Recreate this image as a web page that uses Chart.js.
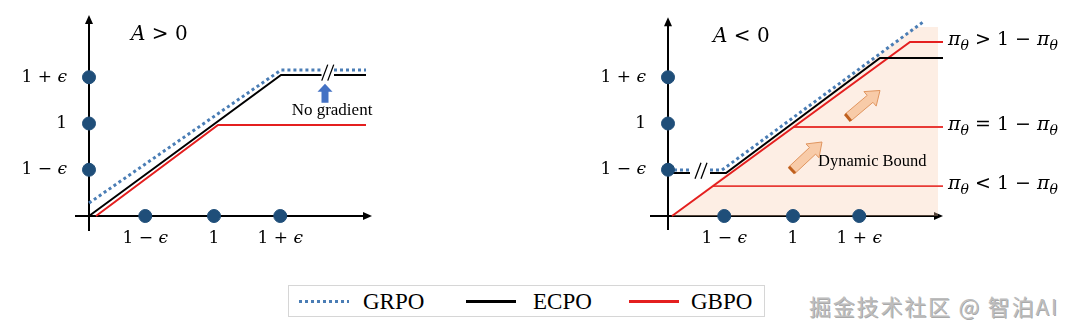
<!DOCTYPE html>
<html>
<head>
<meta charset="utf-8">
<script src="https://cdn.jsdelivr.net/npm/chart.js@4.4.1/dist/chart.umd.min.js"></script>
<style>
  body { margin: 0; width: 1080px; height: 332px; background: #fff; position: relative; overflow: hidden; }
  canvas { position: absolute; top: 0; }
  #left { left: 0; }
  #right { left: 540px; }
  #legend { position: absolute; left: 288px; top: 285px; width: 477px; height: 32px; border: 1px solid #d6d6d6; box-sizing: border-box; }
  #legend .sample { position: absolute; top: 14px; width: 50px; height: 3px; }
  #legend .name { position: absolute; top: 2px; font: 23px "Liberation Serif", serif; color: #000; line-height: 28px; }
  #mark { position: absolute; left: 809px; top: 289px; font: 22px "Noto Sans CJK SC", sans-serif; letter-spacing: 1.8px;
          color: #bdbdbd; text-shadow: 1px 1px 0 rgba(60,60,60,0.45); white-space: nowrap; }
</style>
</head>
<body>
<canvas id="left" width="540" height="260"></canvas>
<canvas id="right" width="540" height="260"></canvas>
<div id="legend"></div>
<div id="mark">掘金技术社区 @ 智泊AI</div>
<script>
// tick positions (in units of the "1" tick) and their labels
const xTicks = [0.45, 1, 1.53];
const yTicks = [0.5, 1, 1.5];
const tickLabels = ["1 − ϵ", "1", "1 + ϵ"];

const seriesNames = ["GRPO", "ECPO", "GBPO"];

// A > 0 panel
const posGRPO = [
  { x: 0, y: 0.14 }, { x: 1.536, y: 1.578 }, { x: 1.86, y: 1.578 },
  { x: 1.9, y: null },
  { x: 1.96, y: 1.578 }, { x: 2.216, y: 1.578 },
];
const posECPO = [
  { x: 0, y: 0 }, { x: 1.536, y: 1.524 }, { x: 1.86, y: 1.524 },
  { x: 1.9, y: null },
  { x: 1.96, y: 1.524 }, { x: 2.216, y: 1.524 },
];
const posGBPO = [{ x: 0.056, y: 0 }, { x: 1.032, y: 0.984 }, { x: 2.216, y: 0.984 }];

// A < 0 panel
const negGRPO = [
  { x: 0, y: 0.497 }, { x: 0.176, y: 0.497 },
  { x: 0.26, y: null },
  { x: 0.336, y: 0.497 }, { x: 0.432, y: 0.497 }, { x: 2.04, y: 2.097 },
];
const negECPO = [
  { x: 0, y: 0.465 }, { x: 0.176, y: 0.465 },
  { x: 0.26, y: null },
  { x: 0.336, y: 0.465 }, { x: 0.464, y: 0.465 }, { x: 1.696, y: 1.708 }, { x: 2.2, y: 1.708 },
];
const negGBPO = [{ x: 0.032, y: 0 }, { x: 1.936, y: 1.881 }, { x: 2.2, y: 1.881 }];
const negGBPOMid = [{ x: 1.0, y: 0.962 }, { x: 2.2, y: 0.962 }];
const negGBPOLow = [{ x: 0.36, y: 0.324 }, { x: 2.2, y: 0.324 }];
const negBoundArea = [{ x: 0.032, y: 0 }, { x: 1.976, y: 2.043 }, { x: 2.16, y: 2.043 }];
const boundLabels = ["π_θ > 1 − π_θ", "π_θ = 1 − π_θ", "π_θ < 1 − π_θ"];
const boundLevels = [1.881, 0.962, 0.324];

const colors = { GRPO: "#4a7db5", ECPO: "#000000", GBPO: "#e41f1f", dot: "#1f4e79" };
const UX = 125, UY = 92.5;

// draws a label, greek letters in italic, "_x" as subscript
const drawMath = (ctx, str, x, y, size, align) => {
  const parts = [];
  for (let i = 0; i < str.length; i++) {
    let c = str[i], sub = false;
    if (c === "_") { sub = true; c = str[++i]; }
    parts.push({ c, sub, it: "Aϵπθ".includes(c) });
  }
  const font = (p) => (p.it ? "italic " : "") + (p.sub ? Math.round(size * 0.72) : size) + 'px "DejaVu Serif"';
  let w = 0;
  parts.forEach((p) => { ctx.font = font(p); w += ctx.measureText(p.c).width; });
  let cx = align === "right" ? x - w : align === "center" ? x - w / 2 : x;
  ctx.textAlign = "left";
  ctx.textBaseline = "middle";
  parts.forEach((p) => {
    ctx.font = font(p);
    ctx.fillText(p.c, cx, y + (p.sub ? size * 0.32 : 0));
    cx += ctx.measureText(p.c).width;
  });
};

const blockArrow = (ctx, x1, y1, x2, y2, shaft, head, headLen) => {
  const dx = x2 - x1, dy = y2 - y1, len = Math.hypot(dx, dy);
  const ux = dx / len, uy = dy / len, nx = -uy, ny = ux;
  const bx = x2 - ux * headLen, by = y2 - uy * headLen;
  const pts = [
    [x1 + nx * shaft / 2, y1 + ny * shaft / 2],
    [bx + nx * shaft / 2, by + ny * shaft / 2],
    [bx + nx * head / 2, by + ny * head / 2],
    [x2, y2],
    [bx - nx * head / 2, by - ny * head / 2],
    [bx - nx * shaft / 2, by - ny * shaft / 2],
    [x1 - nx * shaft / 2, y1 - ny * shaft / 2],
  ];
  ctx.beginPath();
  pts.forEach(([px, py], i) => (i ? ctx.lineTo(px, py) : ctx.moveTo(px, py)));
  ctx.closePath();
  return pts;
};

const decor = {
  id: "decor",
  beforeDatasetsDraw(chart, args, o) {
    const ctx = chart.ctx, X = (v) => chart.scales.x.getPixelForValue(v), Y = (v) => chart.scales.y.getPixelForValue(v);
    ctx.save();
    ctx.strokeStyle = "#000";
    ctx.fillStyle = "#000";
    ctx.lineWidth = 2;
    ctx.beginPath();
    ctx.moveTo(X(o.xAxis[0]), Y(0));
    ctx.lineTo(X(o.xAxis[1]) - 6, Y(0));
    ctx.moveTo(X(0), Y(o.yAxis[0]));
    ctx.lineTo(X(0), Y(o.yAxis[1]) + 6);
    ctx.stroke();
    const xe = X(o.xAxis[1]), ye = Y(o.yAxis[1]);
    ctx.beginPath();
    ctx.moveTo(xe, Y(0)); ctx.lineTo(xe - 9, Y(0) - 4); ctx.lineTo(xe - 9, Y(0) + 4); ctx.closePath();
    ctx.moveTo(X(0), ye); ctx.lineTo(X(0) - 4, ye + 9); ctx.lineTo(X(0) + 4, ye + 9); ctx.closePath();
    ctx.fill();
    ctx.restore();
  },
  afterDatasetsDraw(chart, args, o) {
    const ctx = chart.ctx, X = (v) => chart.scales.x.getPixelForValue(v), Y = (v) => chart.scales.y.getPixelForValue(v);
    ctx.save();
    ctx.fillStyle = "#000";
    xTicks.forEach((v, i) => drawMath(ctx, tickLabels[i], X(v), Y(0) + 23, 17, "center"));
    yTicks.forEach((v, i) => drawMath(ctx, tickLabels[i], X(0) - 22, Y(v), 17, "right"));
    o.math.forEach((t) => drawMath(ctx, t.text, X(t.x), Y(t.y), t.size, "left"));
    o.notes.forEach((t) => {
      ctx.font = t.size + 'px "Liberation Serif"';
      ctx.textAlign = t.align;
      ctx.textBaseline = "middle";
      ctx.fillText(t.text, X(t.x), Y(t.y));
    });
    o.breaks.forEach((b) => {
      ctx.strokeStyle = "#000";
      ctx.lineWidth = 1.3;
      ctx.beginPath();
      [-3, 3].forEach((d) => {
        ctx.moveTo(X(b.x) + d - 3, Y(b.y) + 8);
        ctx.lineTo(X(b.x) + d + 3, Y(b.y) - 8);
      });
      ctx.stroke();
    });
    o.arrows.forEach((a) => {
      const pts = blockArrow(ctx, X(a.from[0]), Y(a.from[1]), X(a.to[0]), Y(a.to[1]), a.shaft, a.head, a.headLen);
      ctx.fillStyle = a.fill;
      ctx.fill();
      if (a.stroke) {
        ctx.strokeStyle = a.stroke;
        ctx.lineWidth = 1;
        ctx.stroke();
        ctx.strokeStyle = a.tail;
        ctx.lineWidth = 3;
        ctx.beginPath();
        ctx.moveTo(pts[0][0], pts[0][1]);
        ctx.lineTo(pts[6][0], pts[6][1]);
        ctx.stroke();
      }
    });
    ctx.restore();
  },
};

const line = (data, color, extra) => Object.assign({
  data, borderColor: color, borderWidth: 2, pointRadius: 0, tension: 0, fill: false, spanGaps: false,
}, extra);
const dotted = { borderWidth: 3, borderDash: [3, 3], borderCapStyle: "butt" };

const dots = [...xTicks.map((v) => ({ x: v, y: 0 })), ...yTicks.map((v) => ({ x: 0, y: v }))];

const makeChart = (id, ox, oy, datasets, deco) => {
  const w = 540, h = 260;
  return new Chart(document.getElementById(id), {
    type: "line",
    data: {
      datasets: [
        { data: dots, showLine: false, pointRadius: 6.5, pointBackgroundColor: colors.dot, pointBorderColor: colors.dot, order: -1 },
        ...datasets,
      ],
    },
    options: {
      responsive: false,
      animation: false,
      events: [],
      layout: { padding: 0, autoPadding: false },
      scales: {
        x: { type: "linear", display: false, min: -ox / UX, max: (w - ox) / UX },
        y: { type: "linear", display: false, min: -(h - oy) / UY, max: oy / UY },
      },
      plugins: { legend: { display: false }, tooltip: { enabled: false }, decor: deco },
    },
    plugins: [decor],
  });
};

makeChart("left", 89, 216, [
  line(posGRPO, colors.GRPO, dotted),
  line(posECPO, colors.ECPO),
  line(posGBPO, colors.GBPO),
], {
  xAxis: [-0.112, 2.264], yAxis: [-0.162, 2.173],
  math: [{ text: "A > 0", x: 0.336, y: 1.957, size: 20 }],
  notes: [{ text: "No gradient", x: 1.944, y: 1.135, size: 17, align: "center" }],
  breaks: [{ x: 1.91, y: 1.55 }],
  arrows: [{ from: [1.888, 1.225], to: [1.888, 1.43], shaft: 7, head: 15, headLen: 8, fill: "#4472c4" }],
});

makeChart("right", 128, 216, [
  line(negGRPO, colors.GRPO, dotted),
  line(negECPO, colors.ECPO),
  line(negGBPO, colors.GBPO),
  line(negGBPOMid, "#e83a36", { borderWidth: 1.8 }),
  line(negGBPOLow, "#e83a36", { borderWidth: 1.8 }),
  line(negBoundArea, "rgba(0,0,0,0)", { borderWidth: 0, fill: "origin", backgroundColor: "rgba(248, 203, 173, 0.33)", order: 10 }),
], {
  xAxis: [-0.144, 2.2], yAxis: [-0.151, 2.15],
  math: [
    { text: "A < 0", x: 0.36, y: 1.935, size: 20 },
    ...boundLabels.map((t, i) => ({ text: t, x: 2.24, y: boundLevels[i] + 0.02, size: 19 })),
  ],
  notes: [{ text: "Dynamic Bound", x: 1.2, y: 0.584, size: 16.5, align: "left" }],
  breaks: [{ x: 0.264, y: 0.49 }],
  arrows: [
    { from: [0.992, 0.497], to: [1.232, 0.8], shaft: 9, head: 19, headLen: 13, fill: "#f8cba8", stroke: "#e0955f", tail: "#c0601e" },
    { from: [1.44, 1.065], to: [1.696, 1.357], shaft: 9, head: 19, headLen: 13, fill: "#f8cba8", stroke: "#e0955f", tail: "#c0601e" },
  ],
});

// legend
const legend = document.getElementById("legend");
const samples = [
  "repeating-linear-gradient(to right, " + colors.GRPO + " 0 3px, transparent 3px 6px)",
  colors.ECPO,
  colors.GBPO,
];
const sampleX = [10, 177, 340];
const nameX = [74, 244, 402];
seriesNames.forEach((name, i) => {
  const s = document.createElement("div");
  s.className = "sample";
  s.style.left = sampleX[i] + "px";
  s.style.background = samples[i];
  legend.appendChild(s);
  const n = document.createElement("div");
  n.className = "name";
  n.style.left = nameX[i] + "px";
  n.textContent = name;
  legend.appendChild(n);
});
</script>
</body>
</html>
